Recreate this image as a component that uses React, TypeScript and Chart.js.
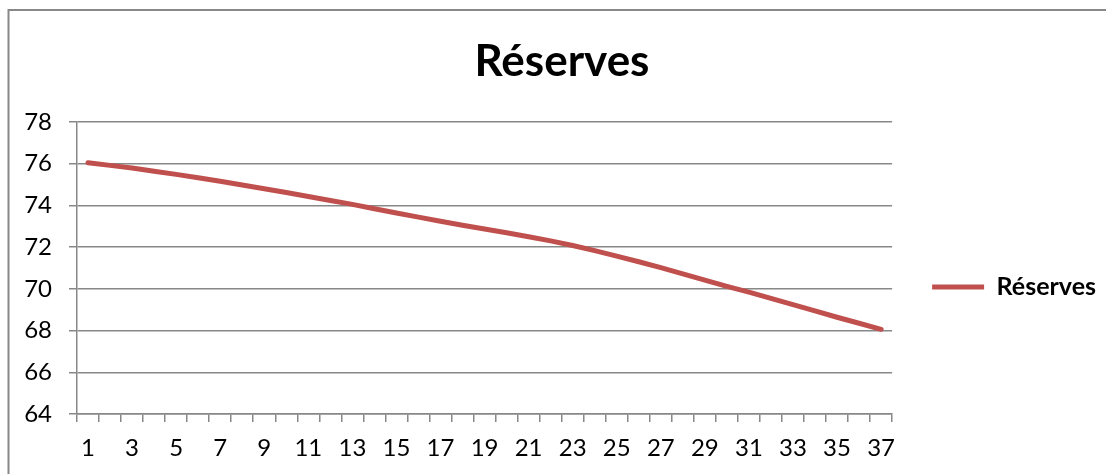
import React, { useEffect, useRef } from "react";
import { Chart, registerables } from "chart.js";

Chart.register(...registerables);

// Periods 1..37 and the reserve level at each one
const periods: string[] = [
  "1", "2", "3", "4", "5", "6", "7", "8", "9", "10",
  "11", "12", "13", "14", "15", "16", "17", "18", "19", "20",
  "21", "22", "23", "24", "25", "26", "27", "28", "29", "30",
  "31", "32", "33", "34", "35", "36", "37",
];

const reserves: number[] = [
  76.05, 75.92, 75.79, 75.64, 75.49, 75.33, 75.16, 74.98, 74.8, 74.62,
  74.43, 74.24, 74.05, 73.84, 73.64, 73.44, 73.24, 73.05, 72.87, 72.69,
  72.5, 72.3, 72.08, 71.83, 71.57, 71.3, 71.02, 70.72, 70.42, 70.12,
  69.84, 69.54, 69.24, 68.94, 68.64, 68.35, 68.06,
];

const seriesName = "Réserves";
const chartTitle = "Réserves";

const yMin = 64;
const yMax = 78;
const yStep = 2;

const LINE_RED = "#C0504D";
const GRID_GREY = "#888888";
const FONT = "Lato, 'Open Sans', sans-serif";

// Grey frame around the whole chart object
const framePlugin = {
  id: "frame",
  beforeDraw(chart: any) {
    const { ctx, width, height } = chart;
    ctx.save();
    ctx.fillStyle = "#ffffff";
    ctx.fillRect(0, 0, width, height);
    ctx.strokeStyle = GRID_GREY;
    ctx.lineWidth = 2;
    ctx.beginPath();
    ctx.moveTo(8.5, height + 5);
    ctx.lineTo(8.5, 10);
    ctx.lineTo(width + 5, 10);
    ctx.stroke();
    ctx.restore();
  },
};

export default function App() {
  const canvasRef = useRef<HTMLCanvasElement | null>(null);

  useEffect(() => {
    if (!canvasRef.current) return;
    const chart = new Chart(canvasRef.current, {
      type: "line",
      data: {
        labels: periods,
        datasets: [
          {
            label: seriesName,
            data: reserves,
            borderColor: LINE_RED,
            backgroundColor: LINE_RED,
            borderWidth: 5,
            pointRadius: 0,
            pointHoverRadius: 0,
            tension: 0,
            fill: false,
            borderCapStyle: "round",
            borderJoinStyle: "round",
          },
        ],
      },
      options: {
        animation: false,
        responsive: false,
        maintainAspectRatio: false,
        devicePixelRatio: 1,
        layout: { padding: { left: 18, right: 0, top: 0, bottom: 0 } },
        plugins: {
          title: {
            display: true,
            text: chartTitle,
            color: "#000000",
            font: { family: FONT, size: 44, weight: "bold", lineHeight: 1.2 },
            padding: { top: 35, bottom: 34.2 },
          },
          legend: {
            position: "right",
            fullSize: false,
            align: "center",
            title: {
              display: true,
              text: "",
              font: { size: 10, lineHeight: 1 },
              padding: { top: 28, bottom: 0 },
            },
            labels: {
              boxWidth: 52,
              boxHeight: 5,
              padding: 40,
              color: "#000000",
              font: { family: FONT, size: 25, weight: "bold" },
              generateLabels: (c: any) =>
                Chart.defaults.plugins.legend.labels
                  .generateLabels(c)
                  .map((item: any) => ({ ...item, lineWidth: 0, fillStyle: LINE_RED })),
            },
          },
          tooltip: { enabled: false },
        },
        scales: {
          x: {
            type: "category",
            offset: true,
            afterFit: (scale: any) => {
              scale.height = 60;
            },
            border: { display: true, color: GRID_GREY, width: 1.5 },
            grid: {
              display: true,
              offset: true,
              drawOnChartArea: false,
              drawTicks: true,
              tickLength: 8,
              color: GRID_GREY,
              lineWidth: 1.5,
            },
            ticks: {
              autoSkip: false,
              maxRotation: 0,
              padding: 12,
              color: "#000000",
              font: { family: FONT, size: 24 },
              callback: (_v: any, i: number) => (i % 2 === 0 ? periods[i] : ""),
            },
          },
          y: {
            min: yMin,
            max: yMax,
            afterFit: (scale: any) => {
              scale.width = 59;
            },
            border: { display: true, color: GRID_GREY, width: 1.5 },
            grid: {
              display: true,
              drawTicks: true,
              tickLength: 8,
              color: GRID_GREY,
              lineWidth: 1.5,
            },
            ticks: {
              stepSize: yStep,
              padding: 17,
              color: "#000000",
              font: { family: FONT, size: 24 },
            },
          },
        },
      },
      plugins: [framePlugin],
    } as any);
    return () => chart.destroy();
  }, []);

  return (
    <div style={{ position: "fixed", left: 0, top: 0, width: 1106, height: 474, overflow: "hidden", background: "#fff" }}>
      <canvas ref={canvasRef} width={1106} height={474} />
    </div>
  );
}
